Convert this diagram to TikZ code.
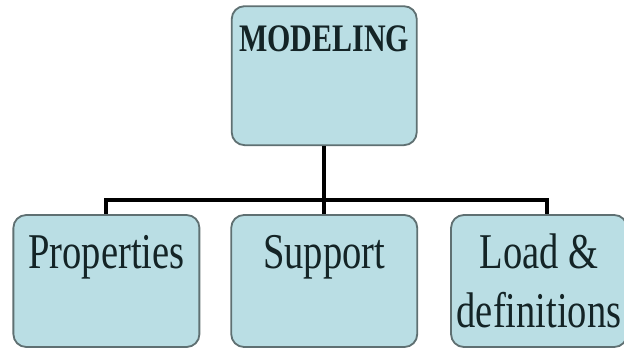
\documentclass[tikz,border=0pt]{standalone}
\usepackage{fontspec}
\usepackage{tikz}
\usetikzlibrary{positioning}
\newfontfamily\boxfont[FakeStretch=0.77]{Liberation Serif}
\definecolor{boxfill}{RGB}{186,222,228}
\definecolor{boxline}{RGB}{95,112,114}
\definecolor{boxtext}{RGB}{20,36,38}

\begin{document}
\begin{tikzpicture}[
            box/.style = {draw = boxline, fill = boxfill, line width = 1.3pt,
                rounded corners = 0.32cm, inner sep = 0pt, text = boxtext,
                minimum width = 4.65cm, minimum height = 3.3cm,
                text height = 1.325cm, text depth = 1.975cm,
                font = \boxfont\fontsize{35.6pt}{42pt}\selectfont},
            bus/.style = {line width = 0.1cm, black}, % connector style
            node distance = 0.75cm
        ]

        \useasboundingbox (0,0) rectangle (15.6,8.8);

	% bottom level
        \node[box] (prop) at (2.66,1.775) {Properties};
        \node[box] (supp) [right = 0.75cm of prop] {Support};
        \node[box, minimum width = 4.4cm] (load) [right = 0.8cm of supp]
            {\begin{tabular}[t]{@{}c@{}}Load \&\\definitions\end{tabular}};

         % top level
         \node[box, minimum height = 3.475cm, minimum width = 4.625cm,
               text height = 1.125cm, text depth = 2.35cm,
               font = \boxfont\bfseries\fontsize{27.7pt}{32pt}\selectfont]
               (model) [above = 1.7cm of supp] {MODELING};

         % connectors
         \draw[bus] (model.south) -- ++(0,-1.35) coordinate (junction);
         \draw[bus] (prop.north) |- (junction) -| ([xshift=0.19cm]load.north);
         \draw[bus] (junction) -- (supp.north);

  \end{tikzpicture}
\end{document}
